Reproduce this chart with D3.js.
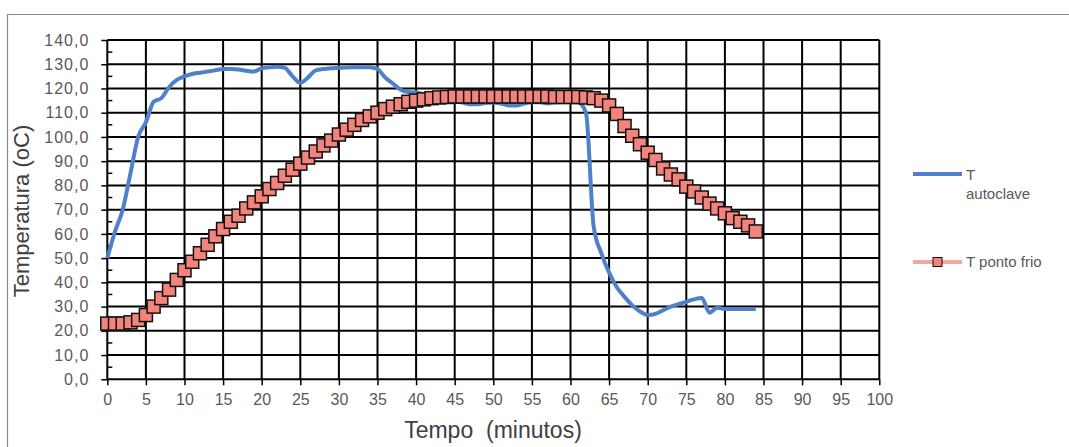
<!DOCTYPE html>
<html>
<head>
<meta charset="utf-8">
<script src="https://cdn.jsdelivr.net/npm/d3@7"></script>
<style>
  body { margin: 0; background: #fff; }
  text { font-family: "Liberation Sans", Arial, sans-serif; }
</style>
</head>
<body>
<svg></svg>
<script>
// minutes and the two temperature series
let minutos = [0,1,2,3,4,5,6,7,8,9,10,11,12,13,14,15,16,17,18,19,20,21,22,23,24,25,26,27,28,29,
  30,31,32,33,34,35,36,37,38,39,40,41,42,43,44,45,46,47,48,49,50,51,52,53,54,55,56,57,58,59,
  60,61,62,63,64,65,66,67,68,69,70,71,72,73,74,75,76,77,78,79,80,81,82,83,84]

let tAutoclave = [50,61,70,85,100,106,114.5,116,120.5,123.5,125,126,126.5,127,127.5,128,128,127.8,127.3,127,
  128.3,128.7,129,128.5,125,122.3,124.5,127.5,128,128.3,128.5,128.7,128.8,128.8,128.8,128,124.5,122,119.5,118.5,
  118.3,117.5,116.5,115.5,115,114.5,114.2,113.5,113.5,114,114.2,113.8,113,113,113.8,114.3,114.3,113.8,114.3,114.5,
  114.5,114.3,110,63,52,44,38,34,30.5,28,26.5,27,28.5,30,31,32,33,33.5,27.5,29.5,29,29,29,29,29]

let tPontoFrio = [23,23,23,23.5,24.5,26.5,30,33.5,37,41,45,48.5,52,55.5,59,62,65,67.5,70.5,73,
  75.5,78.5,81,84,86.5,89,91.5,94,96.5,98.5,101,103,105,107,108.5,110,111.5,112.5,113.5,114.5,
  115,115.5,116,116.3,116.5,116.7,116.7,116.7,116.7,116.7,116.7,116.7,116.7,116.7,116.7,116.7,116.7,116.7,116.5,116.5,
  116.5,116.5,116.3,116,115,113,109.5,104.5,100.5,97,93.5,90.5,87,84.5,82.5,79.5,77.5,75,72.5,70.5,
  68.5,66.5,65,63.5,61]

let yTicks = [0,10,20,30,40,50,60,70,80,90,100,110,120,130,140]
let xTicks = [0,5,10,15,20,25,30,35,40,45,50,55,60,65,70,75,80,85,90,95,100]
let series = ['T autoclave', 'T ponto frio']

let blue = '#4f81c9'
let salmon = '#f4837c'
let pink = '#f4a6a0'

let svg = d3.select('svg').attr('width', 1069).attr('height', 447)

// outer frame
svg.append('path')
  .attr('d', 'M7.5,460 V14.5 H1080')
  .attr('fill', 'none')
  .attr('stroke', '#8a8a8a')
  .attr('stroke-width', 1.2)

let x = d3.scaleLinear().domain([0, 100]).range([107.3, 879.3])
let y = d3.scaleLinear().domain([0, 140]).range([379.3, 40])

// grid
let grid = svg.append('g')
grid.selectAll('line.h')
  .data(yTicks)
  .enter().append('line')
  .attr('x1', x(0)).attr('x2', x(100))
  .attr('y1', d => y(d)).attr('y2', d => y(d))
  .attr('stroke', '#000').attr('stroke-width', 2)
grid.selectAll('line.v')
  .data(xTicks)
  .enter().append('line')
  .attr('x1', d => x(d)).attr('x2', d => x(d))
  .attr('y1', y(0)).attr('y2', y(140))
  .attr('stroke', '#000').attr('stroke-width', 2)

// y axis
let yAxis = svg.append('g')
  .attr('transform', `translate(${x(0)},0)`)
  .call(d3.axisLeft(y).tickValues(yTicks).tickSize(6).tickPadding(12)
    .tickFormat(d => d.toFixed(1).replace('.', ',')))
yAxis.select('.domain').remove()
yAxis.selectAll('line').attr('stroke', '#000').attr('stroke-width', 1.5)
yAxis.selectAll('text')
  .attr('font-size', 16).attr('fill', '#595959')
  .attr('font-family', '"Liberation Sans", Arial, sans-serif')
  .attr('letter-spacing', 1)

// minor ticks inside
svg.append('g').selectAll('line')
  .data(yTicks.slice(0, -1))
  .enter().append('line')
  .attr('x1', x(0)).attr('x2', x(0) + 5)
  .attr('y1', d => y(d + 5)).attr('y2', d => y(d + 5))
  .attr('stroke', '#000').attr('stroke-width', 1.5)

// x axis
let xAxis = svg.append('g')
  .attr('transform', `translate(0,${y(0)})`)
  .call(d3.axisBottom(x).tickValues(xTicks).tickSize(6).tickPadding(8))
xAxis.select('.domain').remove()
xAxis.selectAll('line').attr('stroke', '#000').attr('stroke-width', 1.5)
xAxis.selectAll('text')
  .attr('font-size', 16).attr('fill', '#595959')
  .attr('font-family', '"Liberation Sans", Arial, sans-serif')

// axis titles
svg.append('text')
  .attr('transform', 'translate(29,211) rotate(-90)')
  .attr('text-anchor', 'middle')
  .attr('font-size', 22)
  .attr('fill', '#404040')
  .text('Temperatura (oC)')

svg.append('text')
  .attr('x', 493).attr('y', 438)
  .attr('text-anchor', 'middle')
  .attr('font-size', 23)
  .attr('fill', '#404040')
  .attr('xml:space', 'preserve')
  .text('Tempo  (minutos)')

// T autoclave
let lineBlue = d3.line()
  .x((d, i) => x(minutos[i]))
  .y(d => y(d))
  .curve(d3.curveMonotoneX)

svg.append('path')
  .attr('d', lineBlue(tAutoclave))
  .attr('fill', 'none')
  .attr('stroke', blue)
  .attr('stroke-width', 4)
  .attr('stroke-linejoin', 'round')

// T ponto frio
let lineRed = d3.line()
  .x((d, i) => x(minutos[i]))
  .y(d => y(d))

svg.append('path')
  .attr('d', lineRed(tPontoFrio))
  .attr('fill', 'none')
  .attr('stroke', pink)
  .attr('stroke-width', 3)

svg.append('g').selectAll('rect')
  .data(tPontoFrio)
  .enter().append('rect')
  .attr('x', (d, i) => x(minutos[i]) - 6.5)
  .attr('y', d => y(d) - 6.5)
  .attr('width', 13)
  .attr('height', 13)
  .attr('fill', salmon)
  .attr('stroke', '#111')
  .attr('stroke-width', 1.5)

// legend
let leg = svg.append('g')
leg.append('line')
  .attr('x1', 913).attr('x2', 962).attr('y1', 174).attr('y2', 174)
  .attr('stroke', blue).attr('stroke-width', 4)
leg.append('text')
  .attr('x', 966).attr('y', 180)
  .attr('font-size', 15).attr('fill', '#595959')
  .text(series[0].split(' ')[0])
leg.append('text')
  .attr('x', 966).attr('y', 199)
  .attr('font-size', 15).attr('fill', '#595959')
  .text(series[0].split(' ')[1])

leg.append('line')
  .attr('x1', 913).attr('x2', 962).attr('y1', 262).attr('y2', 262)
  .attr('stroke', pink).attr('stroke-width', 4)
leg.append('rect')
  .attr('x', 933).attr('y', 257.5).attr('width', 9).attr('height', 9)
  .attr('fill', salmon).attr('stroke', '#111').attr('stroke-width', 1)
leg.append('text')
  .attr('x', 966).attr('y', 267)
  .attr('font-size', 15).attr('fill', '#595959')
  .text(series[1])
</script>
</body>
</html>
